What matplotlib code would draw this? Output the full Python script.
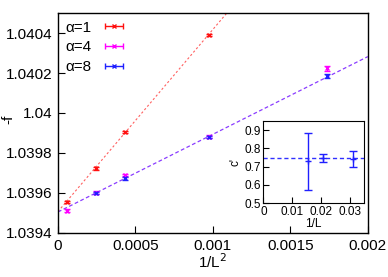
import matplotlib.pyplot as plt
from matplotlib.legend_handler import HandlerErrorbar
from matplotlib.container import ErrorbarContainer

plt.rcParams['font.family'] = ['Liberation Sans', 'DejaVu Sans']

# 1/L^2 for L = 128, 64, 48, 32, 24
inv_L2 = [0.000061, 0.000244, 0.000434, 0.000977, 0.001736]

f_a1 = [1.039556, 1.039723, 1.039905, 1.040390]
e_a1 = [0.000006, 0.000006, 0.000006, 0.000006]
f_a4 = [1.039512, 1.039602, 1.039689, 1.039882, 1.040224]
e_a4 = [0.000008, 0.000006, 0.000006, 0.000006, 0.000012]
f_a8 = [1.039600, 1.039673, 1.039882, 1.040185]
e_a8 = [0.000006, 0.000006, 0.000005, 0.000010]

fit_x = [0.0, 0.002]
fit_a1 = [1.039507, 1.041329]
fit_a8 = [1.039505, 1.040282]

# inset: c' vs 1/L
inv_L = [0.015625, 0.020833, 0.03125]
c_val = [0.729, 0.745, 0.742]
c_err = [0.157, 0.022, 0.045]
c_fit = 0.745

labels = ['α=1', 'α=4', 'α=8']
colors = ['#ff1010', '#ff00ff', '#2020ff']

fig = plt.figure(figsize=(3.88, 2.77), dpi=100)
ax = fig.add_axes([0.1495, 0.159, 0.7985, 0.794])

ax.plot(fit_x, fit_a1, color='#ff6060', ls=(0, (2, 2)), lw=0.8)
ax.plot(fit_x, fit_a8, color='#8a3cff', ls=(0, (3, 2)), lw=0.9)

kw = dict(ls='none', marker='x', ms=3.5, mew=1, capsize=2.5, elinewidth=1, capthick=1)
ax.errorbar(inv_L2[:4], f_a1, yerr=e_a1, color=colors[0], **kw)
ax.errorbar(inv_L2, f_a4, yerr=e_a4, color=colors[1], **kw)
ax.errorbar(inv_L2[1:], f_a8, yerr=e_a8, color=colors[2], **kw)

# legend proxies drawn as horizontal error bars
handles = []
for lab, col in zip(labels, colors):
    h = ax.errorbar([-1], [0], xerr=[1], color=col, ls='none', marker='x', ms=3.5,
                    mew=1, capsize=2.5, elinewidth=1, capthick=1, label=lab)
    handles.append(h)

ax.set_xlim(0, 0.002)
ax.set_ylim(1.0394, 1.0405)
ax.set_xticks([0, 0.0005, 0.001, 0.0015, 0.002])
ax.set_xticklabels(['0', '0.0005', '0.001', '0.0015', '0.002'])
ax.set_yticks([1.0394, 1.0396, 1.0398, 1.04, 1.0402, 1.0404])
ax.set_yticklabels(['1.0394', '1.0396', '1.0398', '1.04', '1.0402', '1.0404'])
ax.tick_params(direction='in', length=5, labelsize=11, pad=4)
ax.set_xlabel('1/L$^2$', fontsize=11, labelpad=0)
for s in ax.spines.values():
    s.set_linewidth(1)
fig.text(0.022, 0.57, '-f', rotation=90, fontsize=11, ha='center', va='center')

ax.legend(handles=handles, loc='upper left', frameon=False, fontsize=11,
          markerfirst=False, handlelength=1.3, handletextpad=0.8,
          labelspacing=0.38, borderaxespad=0.1,
          handler_map={ErrorbarContainer: HandlerErrorbar(xerr_size=0.6)})

ins = fig.add_axes([0.679, 0.267, 0.259, 0.296])
ins.axhline(c_fit, color='#3030ff', ls=(0, (3, 2)), lw=1)
ins.errorbar(inv_L, c_val, yerr=c_err, color='#2020ff', ls='none', marker='+',
             ms=5, capsize=3, elinewidth=1, capthick=1)
ins.set_xlim(0, 0.035)
ins.set_ylim(0.5, 0.95)
ins.set_xticks([0, 0.01, 0.02, 0.03])
ins.set_xticklabels(['0', '0.01', '0.02', '0.03'])
ins.set_yticks([0.5, 0.6, 0.7, 0.8, 0.9])
ins.tick_params(direction='in', length=4, labelsize=8.5, pad=2)
ins.set_xlabel('1/L', fontsize=8.5, labelpad=0)
ins.set_ylabel("c'", fontsize=8.5, labelpad=2)

fig.savefig('out.png', dpi=100)
